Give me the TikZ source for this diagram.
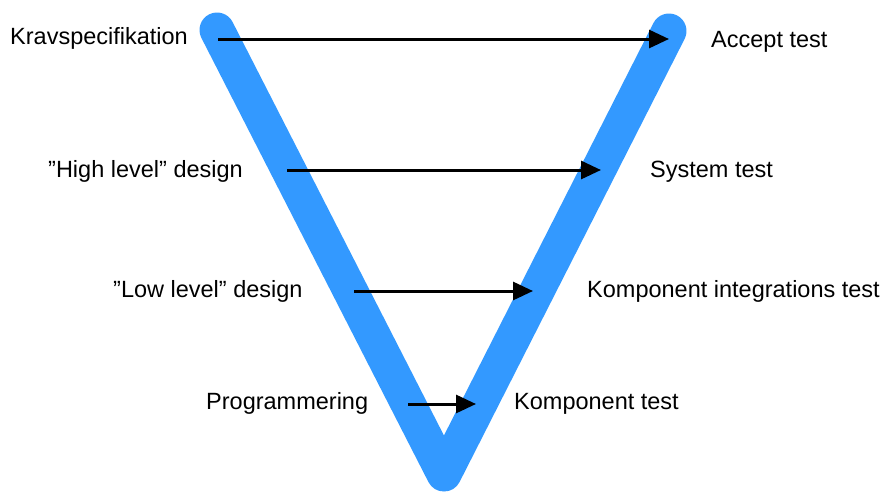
\documentclass[tikz,border=0pt]{standalone}
\usepackage{fontspec}
\setmainfont{Liberation Sans}
\usetikzlibrary{arrows.meta}
\definecolor{vblue}{RGB}{51,153,255}
\begin{document}
\begin{tikzpicture}[x=1pt, y=-1pt,
        lbl/.style={anchor=base west, inner sep=0pt, font=\fontsize{23.5}{28}\selectfont},
        pil/.style={line width=3pt, -{Triangle[length=20pt, width=18pt]}}]
        \useasboundingbox (0,0) rectangle (886,496);

        \coordinate (vl) at (217,30);
        \coordinate (vb) at (444,474);
        \coordinate (vr) at (669,31);
        \draw[vblue, line width=35pt, line cap=round, line join=round] (vl) -- (vb) -- (vr);

        \node[lbl](krav) at (10,44.5){Kravspecifikation};
        \node[lbl](high) at (48,177){”High level” design};
        \node[lbl](low) at (113,297.5){”Low level” design};
        \node[lbl](prog) at (206,409.5){Programmering};

        \node[lbl](accept) at (711,47){Accept test};
        \node[lbl](system) at (650,177){System test};
        \node[lbl](integ) at (587,297.5){Komponent integrations test};
        \node[lbl](komp) at (514,409.5){Komponent test};

        \coordinate (krav-a) at (218,39);
        \coordinate (krav-b) at (669,39);
        \coordinate (high-a) at (287,170);
        \coordinate (high-b) at (601,170);
        \coordinate (low-a) at (354,291);
        \coordinate (low-b) at (533,291);
        \coordinate (prog-a) at (408,404);
        \coordinate (prog-b) at (476,404);

        \draw[pil] (krav-a) -- (krav-b);
        \draw[pil] (high-a) -- (high-b);
        \draw[pil] (low-a) -- (low-b);
        \draw[pil] (prog-a) -- (prog-b);
    \end{tikzpicture}
\end{document}
